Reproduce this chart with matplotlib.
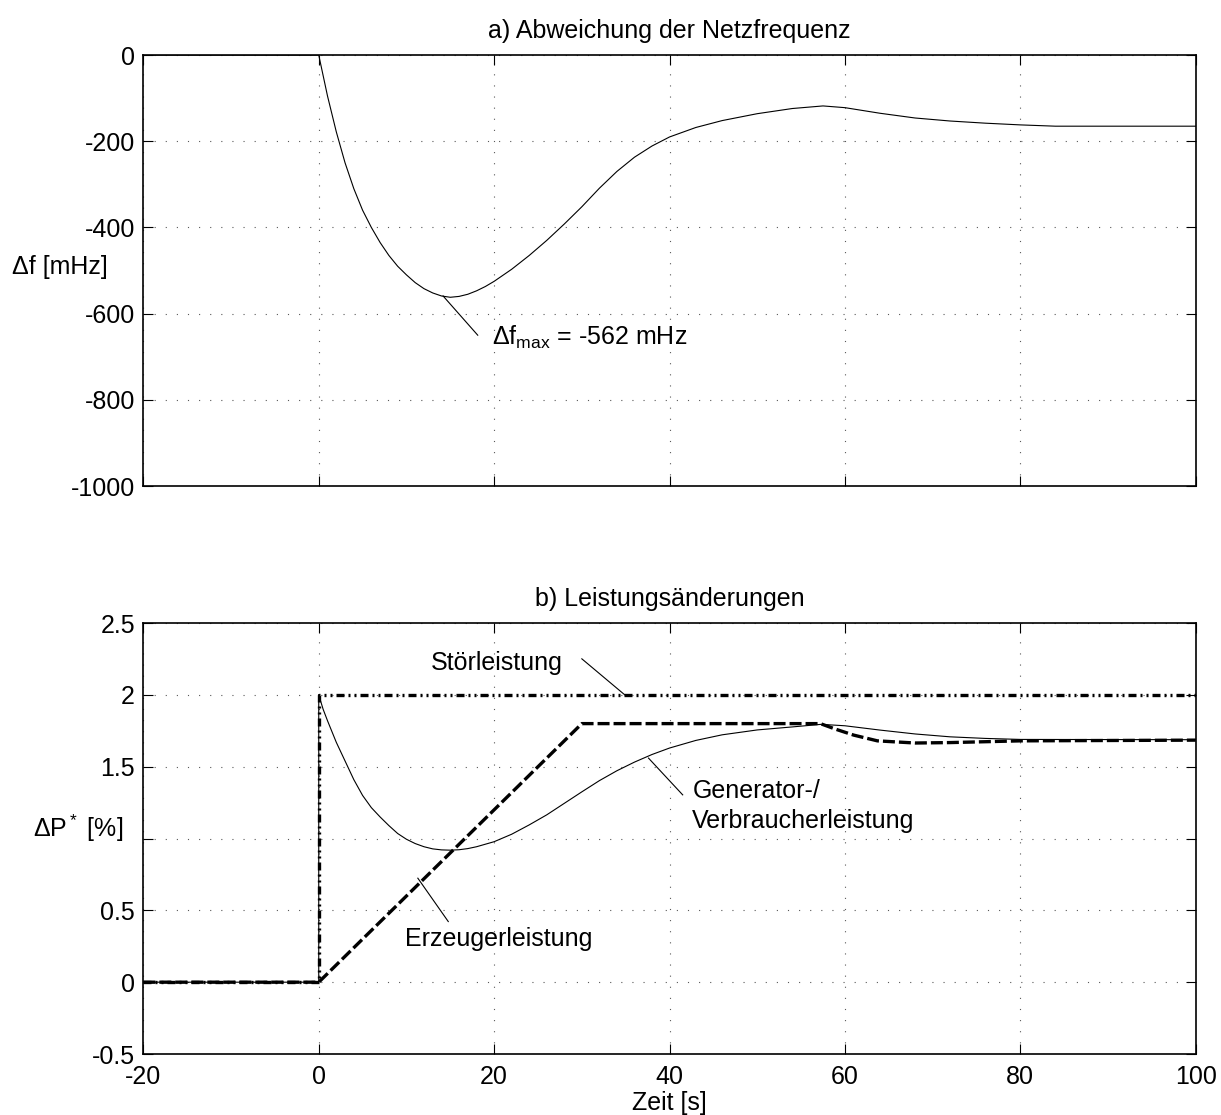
import matplotlib.pyplot as plt

# ===============================
# DATEN
# ===============================
# a) Abweichung der Netzfrequenz
t_df = [-20, 0, 1, 2, 3, 4, 5, 6, 7, 8, 9, 10, 11, 12, 13, 14, 15, 16, 17, 18,
        19, 20, 22, 24, 26, 28, 30, 32, 34, 36, 38, 40, 43, 46, 50, 54, 57.5,
        60, 64, 68, 72, 76, 80, 84, 100]
df = [0, 0, -95, -178, -250, -310, -360, -400, -435, -465, -490, -510, -528,
      -542, -552, -559, -562, -560, -555, -547, -537, -525, -497, -465, -430,
      -392, -352, -309, -270, -237, -211, -190, -168, -152, -136, -124, -118,
      -122, -135, -146, -153, -158, -162, -165, -165]

# b) Leistungsaenderungen
t_stoer = [-20, 0, 0, 100]
p_stoer = [0, 0, 2, 2]

t_erz = [-20, 0, 30, 57.2, 59, 61, 63.7, 68, 72, 80, 100]
p_erz = [0, 0, 1.8, 1.8, 1.76, 1.72, 1.68, 1.665, 1.668, 1.68, 1.685]

t_gen = [-20, 0, 0, 0.5, 1, 2, 3, 4, 5, 6, 7, 8, 9, 10, 11, 12, 13, 14, 15, 16,
         17, 18, 20, 22, 24, 26, 28, 30, 32, 34, 36, 38, 40, 43, 46, 50, 54,
         57.3, 60, 64, 68, 72, 76, 80, 100]
p_gen = [0, 0, 2, 1.9, 1.82, 1.67, 1.54, 1.41, 1.3, 1.215, 1.15, 1.09, 1.035,
         0.995, 0.965, 0.943, 0.928, 0.921, 0.919, 0.922, 0.93, 0.943, 0.978,
         1.03, 1.095, 1.165, 1.245, 1.325, 1.403, 1.472, 1.532, 1.585, 1.63,
         1.683, 1.722, 1.756, 1.777, 1.795, 1.785, 1.755, 1.728, 1.708, 1.697,
         1.69, 1.688]

x_ticks = [-20, 0, 20, 40, 60, 80, 100]
y1_ticks = [0, -200, -400, -600, -800, -1000]
y2_ticks = [2.5, 2, 1.5, 1, 0.5, 0, -0.5]
y2_labels = ["2.5", "2", "1.5", "", "0.5", "0", "-0.5"]

# ===============================
# STIL
# ===============================
plt.rcParams['font.family'] = ['Liberation Sans', 'DejaVu Sans']
plt.rcParams['mathtext.fontset'] = 'custom'
plt.rcParams['mathtext.rm'] = 'Liberation Sans'
plt.rcParams['mathtext.it'] = 'Liberation Sans'
plt.rcParams['mathtext.default'] = 'regular'
plt.rcParams['font.size'] = 18

fs = 18
fig = plt.figure(figsize=(12.21, 11.15), dpi=100)
ax1 = fig.add_axes([0.1174, 0.5641, 0.8619, 0.3865])
ax2 = fig.add_axes([0.1174, 0.0547, 0.8619, 0.3865])


def style_axes(ax):
    ax.set_xlim(-20, 100)
    ax.set_xticks(x_ticks)
    ax.grid(True, color='0.35', linestyle=(0, (1, 9)), linewidth=0.8)
    ax.tick_params(direction='in', length=7, width=0.8, top=True, right=True,
                   labelsize=fs, pad=6)
    ax.tick_params(axis='x', pad=8)
    for s in ax.spines.values():
        s.set_linewidth(1.2)


# ===============================
# PLOT a)
# ===============================
style_axes(ax1)
ax1.plot(t_df, df, color='black', linewidth=0.8)
ax1.set_ylim(-1000, 0)
ax1.set_yticks(y1_ticks)
ax1.set_yticklabels([str(v) for v in y1_ticks])
ax1.tick_params(axis='x', labelbottom=False)
ax1.set_title("a) Abweichung der Netzfrequenz", fontsize=fs, pad=12)
ax1.set_ylabel("Δf [mHz]", rotation=0, fontsize=fs, ha='center', va='center')
ax1.yaxis.set_label_coords(-0.079, 0.509)

ax1.plot([14.18, 18.13], [-559, -650], color='black', linewidth=0.8)
ax1.text(19.77, -673, "Δ$f_{max}$ = -562 mHz", fontsize=fs, ha='left', va='baseline')

# ===============================
# PLOT b)
# ===============================
style_axes(ax2)
ax2.plot(t_gen, p_gen, color='black', linewidth=0.8, zorder=3)
ax2.plot(t_erz, p_erz, color='black', linewidth=2.4, dashes=(3.6, 1.2), zorder=4)
ax2.plot(t_stoer, p_stoer, color='black', linewidth=2.4,
         dashes=(2.4, 1.2, 0.6, 1.2, 0.6, 1.2), zorder=5)
ax2.set_ylim(-0.5, 2.5)
ax2.set_yticks(y2_ticks)
ax2.set_yticklabels(y2_labels)
ax2.set_xticklabels([str(v) for v in x_ticks])
ax2.set_title("b) Leistungsänderungen", fontsize=fs, pad=12)
ax2.set_xlabel("Zeit [s]", fontsize=fs, labelpad=1)
ax2.set_ylabel("Δ$P^*$ [%]", rotation=0, fontsize=fs, ha='center', va='center')
ax2.yaxis.set_label_coords(-0.062, 0.524)

# Beschriftungen mit Hinweislinien
ax2.plot([30.0, 34.9], [2.251, 2.0], color='black', linewidth=0.8)
ax2.text(12.78, 2.175, "Störleistung", fontsize=fs, ha='left', va='baseline')

ax2.plot([11.3, 14.77], [0.724, 0.422], color='black', linewidth=0.8)
ax2.text(9.8, 0.255, "Erzeugerleistung", fontsize=fs, ha='left', va='baseline')

ax2.plot([37.6, 41.5], [1.56, 1.304], color='black', linewidth=0.8)
ax2.text(42.6, 1.281, "Generator-/", fontsize=fs, ha='left', va='baseline')
ax2.text(42.6, 1.072, "Verbraucherleistung", fontsize=fs, ha='left', va='baseline')

# ===============================
# SPEICHERN
# ===============================
fig.savefig("out.png", dpi=100)
